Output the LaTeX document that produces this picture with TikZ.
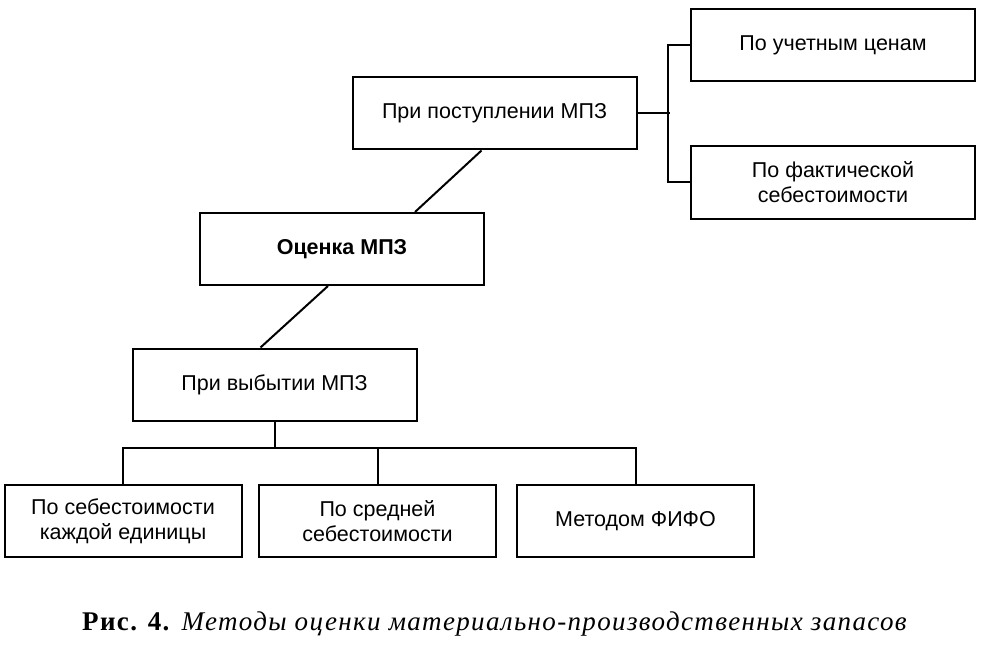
\documentclass[tikz,border=0pt]{standalone}
\usepackage{fontspec}
\setmainfont{Liberation Serif}
\setsansfont{Liberation Sans}
\newfontfamily\capfont[LetterSpace=5]{Liberation Serif}
\usetikzlibrary{positioning}
\tikzstyle{box} = [rectangle, draw=black, line width=2pt, minimum width=284pt, minimum height=72pt, text centered, align=center, font=\sffamily\fontsize{21.5}{25}\selectfont]
\tikzstyle{lowbox} = [box, minimum width=237pt]
\tikzstyle{link} = [line width=2pt]

\begin{document}
\begin{tikzpicture}[x=1pt,y=-1pt]
\useasboundingbox (0,0) rectangle (994,650);
\node [box] (uchet) at (833,45) {По учетным ценам};
\node [box] (fakt) at (833,182.5) {По фактической\\себестоимости};
\node [box] (postup) at (494.5,113.5) {При поступлении МПЗ};
\node [box] (ocenka) at (342,249) {\textbf{Оценка МПЗ}};
\node [box] (vybyt) at (274.5,384.5) {При выбытии МПЗ};
\node [lowbox] (sebed) at (123,521) {По себестоимости\\каждой единицы};
\node [lowbox] (sredn) at (377.5,521) {По средней\\себестоимости};
\node [lowbox] (fifo) at (635.5,521) {Методом ФИФО};
\node (caption) [anchor=base west, font=\capfont\fontsize{27}{30}\selectfont, inner sep=0pt] at (82,630) {\textbf{Рис. 4.} \textit{Методы оценки материально-производственных запасов}};
% upper branch
\draw [link] (postup.east) -- ++(32,0) coordinate (fork);
\draw [link] (uchet.west) -- ++(-22,0) |- (fakt.west);
\draw [link] ([xshift=-13pt]postup.south) -- ([xshift=73pt]ocenka.north);
% lower branch
\draw [link] ([xshift=-14pt]ocenka.south) -- ([xshift=-14pt]vybyt.north);
\draw [link] (vybyt.south) -- ++(0,26) coordinate (bus);
\draw [link] (sebed.north) -- (sebed.north |- bus) -- (fifo.north |- bus) -- (fifo.north);
\draw [link] (sredn.north) -- (sredn.north |- bus);
\end{tikzpicture}
\end{document}
